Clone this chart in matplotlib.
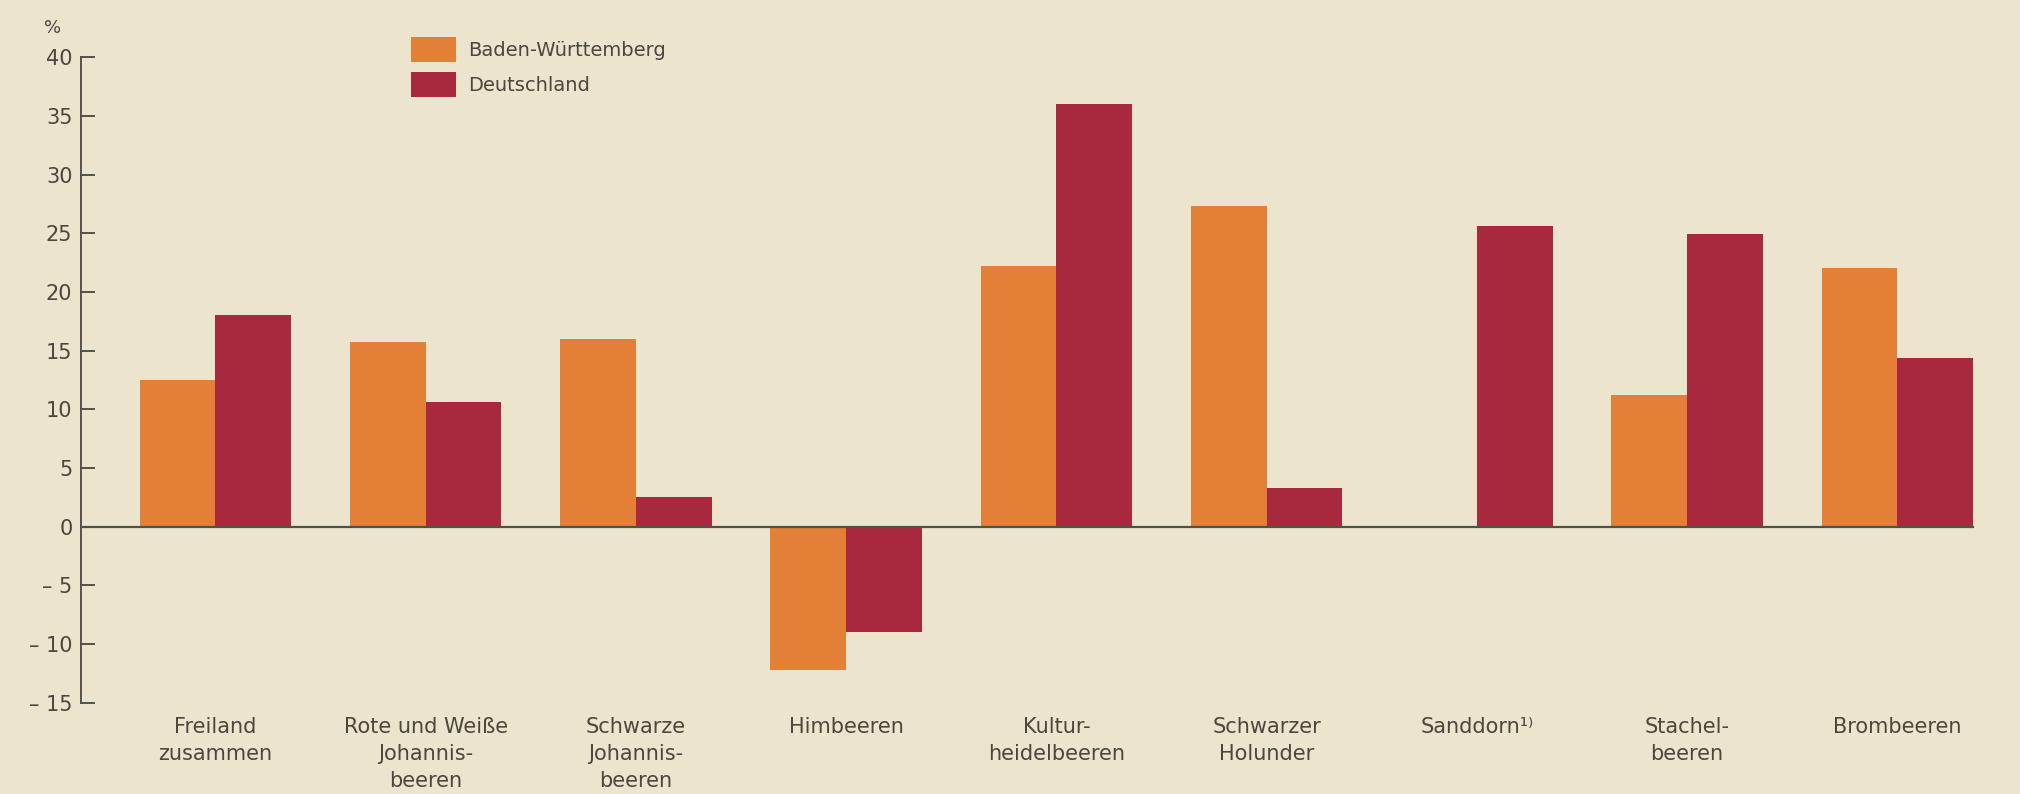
import numpy as np
import matplotlib.pyplot as plt

categories = ["Freiland\nzusammen", "Rote und Weiße\nJohannis-\nbeeren", "Schwarze\nJohannis-\nbeeren",
              "Himbeeren", "Kultur-\nheidelbeeren", "Schwarzer\nHolunder", "Sanddorn¹⁾",
              "Stachel-\nbeeren", "Brombeeren"]
bw = [12.5, 15.7, 16.0, -12.2, 22.2, 27.3, np.nan, 11.2, 22.0]
de = [18.0, 10.6, 2.5, -9.0, 36.0, 3.3, 25.6, 24.9, 14.4]
yticks = [-15, -10, -5, 0, 5, 10, 15, 20, 25, 30, 35, 40]
ytick_labels = ["– 15", "– 10", "– 5", "0", "5", "10", "15", "20", "25", "30", "35", "40"]

BG = "#ede4cd"
TXT = "#4a4640"
ORANGE = "#e37f37"
MAROON = "#a8293e"

plt.rcParams['font.family'] = ['DejaVu Sans']
fig = plt.figure(figsize=(20.2, 7.94), dpi=100, facecolor=BG)
ax = fig.add_axes([0.04, 0.115, 0.943, 0.813])
ax.set_facecolor(BG)

x = np.arange(len(categories))
w = 0.36
ax.bar(x - w / 2, bw, w, color=ORANGE, label="Baden-Württemberg", zorder=2)
ax.bar(x + w / 2, de, w, color=MAROON, label="Deutschland", zorder=2)
ax.plot([-0.64, x[-1] + w], [0, 0], color="#4f5346", lw=1.6, zorder=3)

ax.set_xlim(-0.64, 8.42)
ax.set_ylim(-15, 40)
ax.set_yticks(yticks)
ax.set_yticklabels(ytick_labels, fontsize=15, color=TXT)
ax.tick_params(axis="y", direction="in", length=10, width=1.3, color=TXT, pad=6)
ax.set_xticks(x)
ax.set_xticklabels(categories, fontsize=15, color=TXT, linespacing=1.45)
ax.tick_params(axis="x", length=0, pad=10)
for s in ["top", "right", "bottom"]:
    ax.spines[s].set_visible(False)
ax.spines["left"].set_color(TXT)
ax.spines["left"].set_linewidth(1.3)

fig.text(0.022, 0.965, "%", fontsize=13, color=TXT, ha="left", va="center")

fig.legend(loc="upper left", bbox_to_anchor=(0.195, 0.975), frameon=False,
           fontsize=14, handlelength=2.3, handleheight=1.6, labelspacing=0.5,
           handletextpad=0.6, labelcolor=TXT)

fig.savefig("out.png", dpi=100, facecolor=BG)
